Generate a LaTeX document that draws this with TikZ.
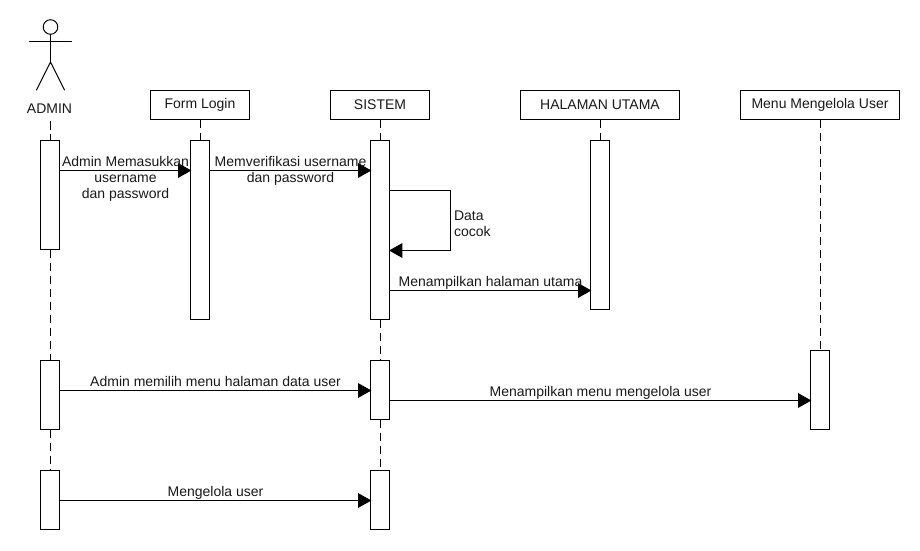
\documentclass[tikz,border=0pt]{standalone}
\usepackage{fontspec}
\setmainfont{Liberation Sans}
\usetikzlibrary{arrows.meta}
\tikzset{
  x=0.75pt,y=-0.75pt,
  every node/.style={font=\fontsize{10.5pt}{12pt}\selectfont,text=black!90,inner sep=0pt,outer sep=0pt},
  headbox/.style={draw=black,fill=white,line width=0.75pt,minimum height=21.75pt,anchor=north west},
  bar/.style={draw=black,fill=white,line width=0.75pt,minimum width=14.25pt,anchor=north},
  life/.style={line width=0.6pt,dash pattern=on 6.5pt off 3.25pt},
  msg/.style={line width=0.75pt,-{Triangle[length=10pt,width=11pt]},shorten >=-0.5pt},
  lbl/.style={align=center,anchor=base},
  actor/.style={line width=0.75pt,line cap=round},
}
\begin{document}
\begin{tikzpicture}
\useasboundingbox (0,0) rectangle (920,550);
\fill[white] (0,0) rectangle (920,550);
% headers
\node[headbox,minimum width=74.25pt] (hF) at (150.5,90.5) {Form Login};
\node[headbox,minimum width=74.25pt] (hS) at (330.5,90.5) {SISTEM};
\node[headbox,minimum width=119.25pt] (hH) at (520.5,90.5) {HALAMAN UTAMA};
\node[headbox,minimum width=119.25pt] (hM) at (740.5,90.5) {Menu Mengelola User};
% actor
\node[draw=black,line width=0.75pt,circle,minimum size=10.9pt] (head) at (50.5,27) {};
\coordinate (neck) at (50.5,62);
\coordinate (lfoot) at (36.5,90);
\coordinate (rfoot) at (64.5,90);
\coordinate (lhand) at (29.5,41.5);
\coordinate (rhand) at (71.5,41.5);
\draw[actor] (head.south) -- (neck);
\draw[actor] (lhand) -- (rhand);
\draw[actor] (lfoot) -- (neck) -- (rfoot);
\node[anchor=base] (admin) at (49.5,113) {ADMIN};
% activation bars
\node[bar,minimum height=81.75pt] (a1) at (50.2,140.5) {};
\node[bar,minimum height=51.75pt] (a2) at (50.2,360.5) {};
\node[bar,minimum height=44.25pt] (a3) at (50.2,470.5) {};
\node[bar,minimum height=134.25pt] (f1) at (200.2,140.5) {};
\node[bar,minimum height=134.25pt] (s1) at (380.2,140.5) {};
\node[bar,minimum height=44.25pt] (s2) at (380.2,360.5) {};
\node[bar,minimum height=44.25pt] (s3) at (380.2,470.5) {};
\node[bar,minimum height=126.75pt] (h1) at (600.2,140.5) {};
\node[bar,minimum height=59.25pt] (m1) at (820.2,350.5) {};
% lifelines
\draw[life] (admin.south -| a1.north) ++(0,8) -- (a1.north);
\draw[life] (a1.south) -- (a2.north);
\draw[life] (a2.south) -- (a3.north);
\draw[life] (hF.south -| f1.north) -- (f1.north);
\draw[life] (hS.south -| s1.north) -- (s1.north);
\draw[life] (s1.south) -- (s2.north);
\draw[life] (s2.south) -- (s3.north);
\draw[life] (hH.south -| h1.north) -- (h1.north);
\draw[life] (hM.south -| m1.north) -- (m1.north);
% messages
\draw[msg] (a1.east |- 0,170.5) -- (f1.west |- 0,170.5);
\draw[msg] (f1.east |- 0,170.5) -- (s1.west |- 0,170.5);
\coordinate (loopA) at (450.5,190.5);
\coordinate (loopB) at (450.5,250.5);
\draw[msg] (s1.east |- loopA) -- (loopA) -- (loopB) -- (s1.east |- loopB);
\draw[msg] (s1.east |- 0,290.5) -- (h1.west |- 0,290.5);
\draw[msg] (a2.east |- 0,390.5) -- (s2.west |- 0,390.5);
\draw[msg] (s2.east |- 0,400.5) -- (m1.west |- 0,400.5);
\draw[msg] (a3.east |- 0,500.5) -- (s3.west |- 0,500.5);
% labels
\node[lbl] (l1a) at (125.5,166) {Admin Memasukkan};
\node[lbl] (l1b) at (125.5,182) {username};
\node[lbl] (l1c) at (125.5,198) {dan password};
\node[lbl] (l2a) at (290.5,166) {Memverifikasi username};
\node[lbl] (l2b) at (290.5,182) {dan password};
\node[anchor=base west] (l3a) at (454,220) {Data};
\node[anchor=base west] (l3b) at (454,236) {cocok};
\node[lbl] (l4) at (490.5,286) {Menampilkan halaman utama};
\node[lbl] (l5) at (215.5,386) {Admin memilih menu halaman data user};
\node[lbl] (l6) at (600.5,396) {Menampilkan menu mengelola user};
\node[lbl] (l7) at (215.5,496) {Mengelola user};
\end{tikzpicture}
\end{document}
